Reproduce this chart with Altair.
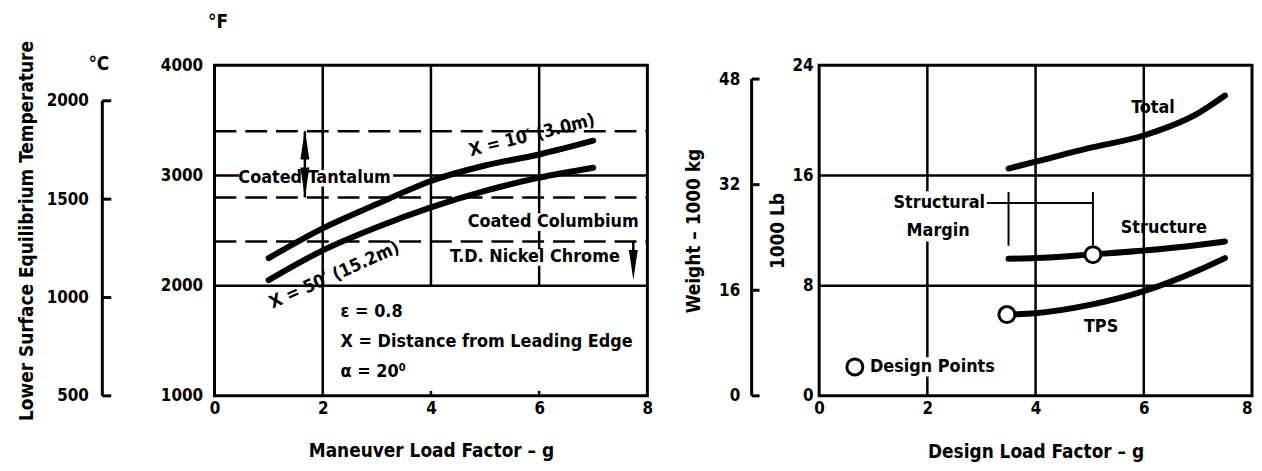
import altair as alt
import pandas as pd

FONT = "Liberation Sans Narrow, DejaVu Sans Condensed, sans-serif"
PANEL_W, GAP, H = 436, 173, 333
W = PANEL_W * 2 + GAP
FS_TEXT, FS_LABEL, FS_TITLE = 18, 17, 19

# ---------------- left panel data ----------------
load_g = [1, 2, 3, 4, 5, 6, 7]
temp_x10 = [2250, 2520, 2740, 2950, 3090, 3190, 3315]
temp_x50 = [2050, 2320, 2530, 2710, 2860, 2980, 3070]
limit_temps = [3400, 2800, 2400]
left_grid_x_full = [2]
left_grid_x_upper = [4, 6]
left_grid_y = [2000, 3000]
f_ticks = [1000, 2000, 3000, 4000]
c_ticks = [500, 1000, 1500, 2000]
g_ticks = [0, 2, 4, 6, 8]

center_labels = ["Coated Tantalum", "T.D. Nickel Chrome"]
center_label_x = [1.85, 5.92]
center_label_t = [2973, 2261]
right_label = ["Coated Columbium"]
right_label_x = [7.84]
right_label_t = [2577]
curve_labels = ["X = 10\u2032 (3.0m)", "X = 50\u2032 (15.2m)"]
curve_label_x = [5.87, 2.22]
curve_label_t = [3360, 2090]
curve_label_angle = [346, 336]
info_lines = ["\u03b5  =  0.8", "X = Distance from Leading Edge", "\u03b1  = 20\u2070"]
info_x = [2.33, 2.33, 2.33]
info_t = [1757, 1486, 1216]
left_bg_x0 = [0.45, 4.75, 4.3]
left_bg_x1 = [3.3, 7.9, 7.55]
left_bg_t0 = [2900, 2495, 2180]
left_bg_t1 = [3050, 2657, 2330]
arrow_shaft_x = [1.67, 7.74]
arrow_shaft_t0 = [2800, 2140]
arrow_shaft_t1 = [3400, 2396]
arrow_up_x = [1.67]
arrow_up_t = [3279]
arrow_down_x = [1.67, 7.74]
arrow_down_t = [2937, 2189]

# ---------------- right panel data ----------------
design_g = [3.5, 4, 5, 6, 7, 7.5]
w_total = [16.5, 17.0, 18.0, 18.9, 20.5, 21.8]
w_structure = [9.95, 10.0, 10.25, 10.55, 10.95, 11.2]
w_tps = [5.9, 6.0, 6.6, 7.6, 9.1, 10.0]
design_pt_g = [3.47, 5.06]
design_pt_w = [5.9, 10.25]
lb_ticks = [0, 8, 16, 24]
kg_ticks = [0, 16, 32, 48]
right_grid_x = [2, 4, 6]
right_grid_y = [8, 16]
r_labels = ["Total", "Structure", "TPS", "Structural", "Margin"]
r_label_x = [6.17, 6.37, 5.21, 2.22, 2.2]
r_label_w = [20.9, 12.2, 5.0, 14.0, 12.0]
legend_text = ["Design Points"]
legend_x = [0.94]
legend_w = [2.1]
legend_sym_x = [0.66]
r_bg_x0 = [1.36, 0.45]
r_bg_x1 = [3.0, 2.6]
r_bg_w0 = [11.2, 1.4]
r_bg_w1 = [14.85, 2.8]
bracket_vx = [3.5, 5.06]
bracket_v0 = [10.9, 10.95]
bracket_v1 = [14.8, 14.8]
bracket_hx0 = [3.1]
bracket_hx1 = [5.06]
bracket_hw = [14.0]

# ---------------- scales: one wide view, two panels placed by scale domain ----------------
GMAX = 8.0
left_gs = alt.Scale(domain=[0, GMAX * W / PANEL_W], nice=False, zero=False)
right_gs = alt.Scale(domain=[-GMAX * (PANEL_W + GAP) / PANEL_W, GMAX], nice=False, zero=False)
fs = alt.Scale(domain=[1000, 4000], nice=False, zero=False)
cs = alt.Scale(domain=[500, 2181], nice=False, zero=False)
ws = alt.Scale(domain=[0, 24], nice=False, zero=False)
ks = alt.Scale(domain=[0, 50.1], nice=False, zero=False)
RIGHT0 = PANEL_W + GAP  # pixel start of right panel


def XL(f, axis=None):
    return alt.X(f, type="quantitative", scale=left_gs, axis=axis)


def XR(f, axis=None):
    return alt.X(f, type="quantitative", scale=right_gs, axis=axis)


def Y(f, scale, axis=None):
    return alt.Y(f, type="quantitative", scale=scale, axis=axis)


def txt(**kw):
    base = dict(font=FONT, fontSize=FS_TEXT, fontWeight="bold", color="black", baseline="middle")
    base.update(kw)
    return base

BLACK = "black"
LW = 2.5
DASH = [22, 9]
HEAD_UP = "M0,-1L0.3,1L-0.3,1Z"
HEAD_DN = "M0,1L0.3,-1L-0.3,-1Z"

# ---------------- left panel ----------------
x_axis_l = alt.Axis(values=g_ticks, format="d", title="Maneuver Load Factor \u2013 g", orient="bottom",
                    labelPadding=5, labelFlush=False, titleX=PANEL_W / 2, titleY=55,
                    titleAlign="center", titleBaseline="middle")
f_axis = alt.Axis(values=f_ticks, format="d", title="\u00b0F", titleAngle=0, titleX=3, titleY=-44.5,
                  titleAlign="center", titleBaseline="middle", labelPadding=12, orient="left")

box_l = alt.Chart(pd.DataFrame({"x0": [0], "x1": [GMAX], "t0": [1000], "t1": [4000]})).mark_rect(
    fill=None, stroke=BLACK, strokeWidth=3).encode(x=XL("x0", axis=x_axis_l), x2="x1",
                                                   y=Y("t0", fs, axis=f_axis), y2="t1")
grid_full = alt.Chart(pd.DataFrame({"g": left_grid_x_full, "t0": [1000], "t1": [4000]})).mark_rule(
    color=BLACK, strokeWidth=LW).encode(x=XL("g"), y=Y("t0", fs), y2="t1")
df_gx_up = pd.DataFrame({"g": left_grid_x_upper, "t0": [2000] * 2, "t1": [4000] * 2,
                         "tb": [1000] * 2, "tt": [1045] * 2})
grid_up = alt.Chart(df_gx_up).mark_rule(color=BLACK, strokeWidth=LW).encode(
    x=XL("g"), y=Y("t0", fs), y2="t1")
tick_bot = alt.Chart(df_gx_up).mark_rule(color=BLACK, strokeWidth=LW).encode(
    x=XL("g"), y=Y("tb", fs), y2="tt")
grid_y = alt.Chart(pd.DataFrame({"t": left_grid_y, "x0": [0] * 2, "x1": [GMAX] * 2})).mark_rule(
    color=BLACK, strokeWidth=LW).encode(x=XL("x0"), x2="x1", y=Y("t", fs))
dashed = alt.Chart(pd.DataFrame({"t": limit_temps, "x0": [0] * 3, "x1": [GMAX] * 3})).mark_rule(
    color=BLACK, strokeWidth=LW, strokeDash=DASH).encode(x=XL("x0"), x2="x1", y=Y("t", fs))
bg_l = alt.Chart(pd.DataFrame({"x0": left_bg_x0, "x1": left_bg_x1, "t0": left_bg_t0, "t1": left_bg_t1})).mark_rect(
    color="white").encode(x=XL("x0"), x2="x1", y=Y("t0", fs), y2="t1")
df_curves = pd.DataFrame({"g": load_g * 2, "t": temp_x10 + temp_x50,
                          "s": ["10"] * len(load_g) + ["50"] * len(load_g)})
curves_l = alt.Chart(df_curves).mark_line(color=BLACK, strokeWidth=6, strokeCap="round",
                                          interpolate="monotone").encode(
    x=XL("g"), y=Y("t", fs), detail="s:N")
shafts = alt.Chart(pd.DataFrame({"g": arrow_shaft_x, "t0": arrow_shaft_t0, "t1": arrow_shaft_t1})).mark_rule(
    color=BLACK, strokeWidth=LW).encode(x=XL("g"), y=Y("t0", fs), y2="t1")
heads_up = alt.Chart(pd.DataFrame({"g": arrow_up_x, "t": arrow_up_t})).mark_point(
    shape=HEAD_UP, size=900, filled=True, color=BLACK, opacity=1).encode(
    x=XL("g"), y=Y("t", fs))
heads_dn = alt.Chart(pd.DataFrame({"g": arrow_down_x, "t": arrow_down_t})).mark_point(
    shape=HEAD_DN, size=900, filled=True, color=BLACK, opacity=1).encode(
    x=XL("g"), y=Y("t", fs))
lab_c = alt.Chart(pd.DataFrame({"g": center_label_x, "t": center_label_t, "s": center_labels})).mark_text(
    **txt(align="center")).encode(x=XL("g"), y=Y("t", fs), text="s:N")
lab_r = alt.Chart(pd.DataFrame({"g": right_label_x, "t": right_label_t, "s": right_label})).mark_text(
    **txt(align="right")).encode(x=XL("g"), y=Y("t", fs), text="s:N")
lab_rot = alt.Chart(pd.DataFrame({"g": curve_label_x, "t": curve_label_t, "s": curve_labels,
                                  "a": curve_label_angle})).mark_text(**txt(align="center")).encode(
    x=XL("g"), y=Y("t", fs), text="s:N", angle=alt.Angle("a:Q", scale=None))
lab_info = alt.Chart(pd.DataFrame({"g": info_x, "t": info_t, "s": info_lines})).mark_text(
    **txt(align="left")).encode(x=XL("g"), y=Y("t", fs), text="s:N")

c_axis = alt.Axis(values=c_ticks, format="d", orient="left", offset=113, labelPadding=14,
                  title="Lower Surface Equilibrium Temperature", titlePadding=10)
c_line = alt.Chart(pd.DataFrame({"c0": [c_ticks[0]], "c1": [c_ticks[-1]]})).mark_rule(
    color=BLACK, strokeWidth=3).encode(x=alt.value(-113), y=Y("c0", cs, axis=c_axis), y2="c1")
c_title_axis = alt.Axis(orient="left", offset=113, labels=False, title="\u00b0C", titleAngle=0,
                        titleX=-4, titleY=-2, titleAlign="center", titleBaseline="middle")
c_tk = alt.Chart(pd.DataFrame({"c": c_ticks})).mark_rule(color=BLACK, strokeWidth=3).encode(
    x=alt.value(-113), x2=alt.value(-104), y=Y("c", cs, axis=c_title_axis))

# ---------------- right panel ----------------
x_axis_r = alt.Axis(values=g_ticks, format="d", title="Design Load Factor \u2013 g", orient="bottom",
                    labelPadding=5, labelFlush=True, titleX=RIGHT0 + PANEL_W / 2, titleY=56,
                    titleAlign="center", titleBaseline="middle")
w_axis = alt.Axis(values=lb_ticks, format="d", title="1000 Lb", labelPadding=6, titlePadding=5,
                  orient="left", offset=-RIGHT0)

box_r = alt.Chart(pd.DataFrame({"x0": [0], "x1": [GMAX], "w0": [0], "w1": [24]})).mark_rect(
    fill=None, stroke=BLACK, strokeWidth=3).encode(x=XR("x0", axis=x_axis_r), x2="x1",
                                                   y=Y("w0", ws, axis=w_axis), y2="w1")
rgx = alt.Chart(pd.DataFrame({"g": right_grid_x, "w0": [0] * 3, "w1": [24] * 3})).mark_rule(
    color=BLACK, strokeWidth=LW).encode(x=XR("g"), y=Y("w0", ws), y2="w1")
rgy = alt.Chart(pd.DataFrame({"w": right_grid_y, "x0": [0] * 2, "x1": [GMAX] * 2})).mark_rule(
    color=BLACK, strokeWidth=LW).encode(x=XR("x0"), x2="x1", y=Y("w", ws))
bg_r = alt.Chart(pd.DataFrame({"x0": r_bg_x0, "x1": r_bg_x1, "w0": r_bg_w0, "w1": r_bg_w1})).mark_rect(
    color="white").encode(x=XR("x0"), x2="x1", y=Y("w0", ws), y2="w1")
br_v = alt.Chart(pd.DataFrame({"g": bracket_vx, "w0": bracket_v0, "w1": bracket_v1})).mark_rule(
    color=BLACK, strokeWidth=2).encode(x=XR("g"), y=Y("w0", ws), y2="w1")
br_h = alt.Chart(pd.DataFrame({"g0": bracket_hx0, "g1": bracket_hx1, "w": bracket_hw})).mark_rule(
    color=BLACK, strokeWidth=2).encode(x=XR("g0"), x2="g1", y=Y("w", ws))
df_r = pd.DataFrame({"g": design_g * 3, "w": w_total + w_structure + w_tps,
                     "s": ["Total"] * 6 + ["Structure"] * 6 + ["TPS"] * 6})
curves_r = alt.Chart(df_r).mark_line(color=BLACK, strokeWidth=6, strokeCap="round",
                                     interpolate="monotone").encode(
    x=XR("g"), y=Y("w", ws), detail="s:N")
pts = alt.Chart(pd.DataFrame({"g": design_pt_g + legend_sym_x, "w": design_pt_w + legend_w})).mark_point(
    shape="circle", size=260, filled=True, fill="white", stroke=BLACK, strokeWidth=3, opacity=1).encode(
    x=XR("g"), y=Y("w", ws))
lab_rr = alt.Chart(pd.DataFrame({"g": r_label_x, "w": r_label_w, "s": r_labels})).mark_text(
    **txt(align="center")).encode(x=XR("g"), y=Y("w", ws), text="s:N")
lab_leg = alt.Chart(pd.DataFrame({"g": legend_x, "w": legend_w, "s": legend_text})).mark_text(
    **txt(align="left")).encode(x=XR("g"), y=Y("w", ws), text="s:N")

k_axis = alt.Axis(values=kg_ticks, format="d", orient="left", offset=68 - RIGHT0, labelPadding=12,
                  title="Weight \u2013 1000 kg", titlePadding=15)
k_line = alt.Chart(pd.DataFrame({"k0": [kg_ticks[0]], "k1": [kg_ticks[-1]]})).mark_rule(
    color=BLACK, strokeWidth=3).encode(x=alt.value(RIGHT0 - 68), y=Y("k0", ks, axis=k_axis), y2="k1")
k_tk = alt.Chart(pd.DataFrame({"k": kg_ticks})).mark_rule(color=BLACK, strokeWidth=3).encode(
    x=alt.value(RIGHT0 - 68), x2=alt.value(RIGHT0 - 60), y=Y("k", ks))

chart = alt.layer(
    grid_full, grid_up, tick_bot, grid_y, dashed, box_l, bg_l, curves_l, shafts, heads_up, heads_dn,
    lab_c, lab_r, lab_rot, lab_info, c_line, c_tk,
    rgx, rgy, box_r, bg_r, br_v, br_h, curves_r, pts, lab_rr, lab_leg, k_line, k_tk
).resolve_scale(x="independent", y="independent").properties(
    width=W, height=H, background="white",
    padding={"left": 9, "top": 2, "right": 0, "bottom": 0}
).configure_view(strokeWidth=0).configure_axis(
    labelFont=FONT, titleFont=FONT, labelFontSize=FS_LABEL, titleFontSize=FS_TITLE,
    labelFontWeight="bold", titleFontWeight="bold", labelColor=BLACK, titleColor=BLACK,
    grid=False, domain=False, ticks=False
)

chart.save("out.html", embed_options={"renderer": "svg", "actions": False})
